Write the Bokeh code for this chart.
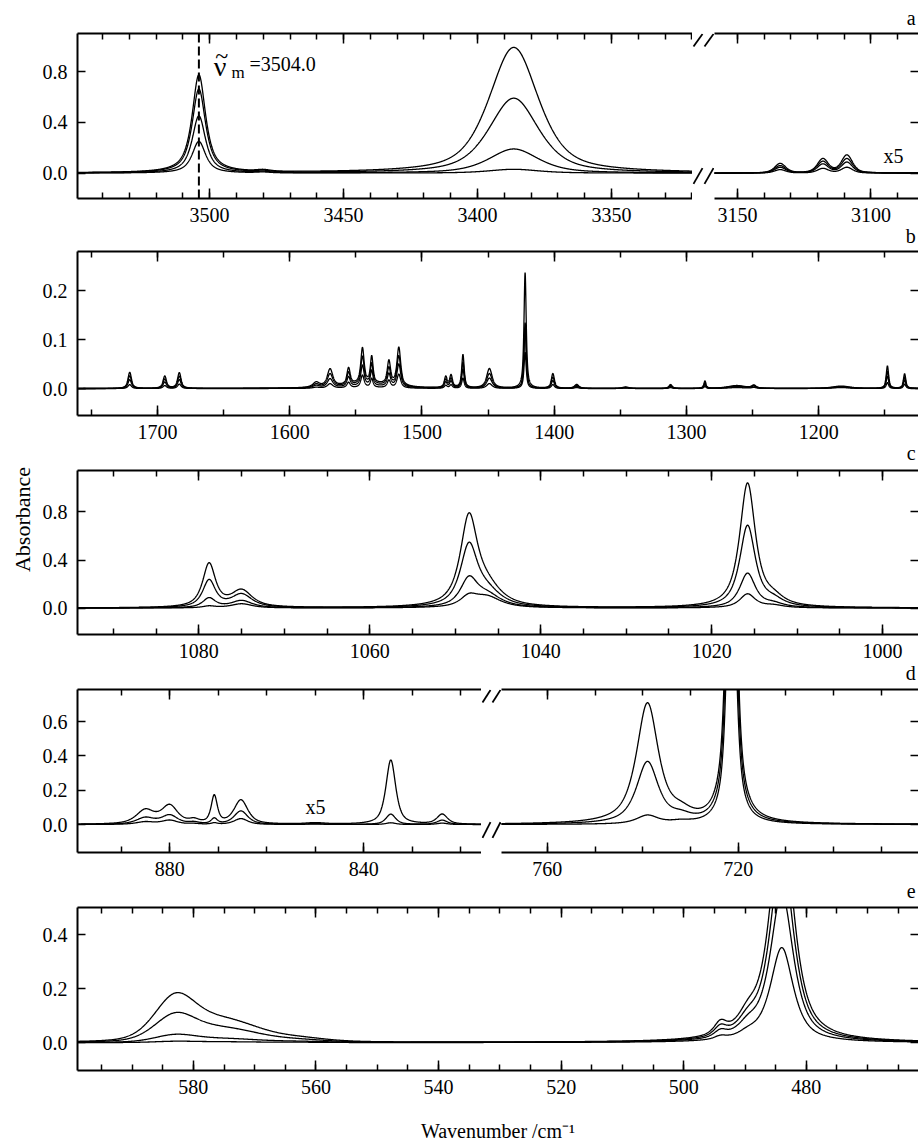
import numpy as np
from bokeh.plotting import figure
from bokeh.layouts import column, row
from bokeh.models import Range1d, LinearAxis, FixedTicker, Label, Span, PrintfTickFormatter
from bokeh.embed import file_html
from bokeh.resources import INLINE

FONT = "Liberation Serif"
INK = "black"

# ---------------- data (peak tables) ----------------
# panel a, left segment: 4 spectra
A_LEFT_POS = [3504.0, 3480.0, 3386.5]
A_LEFT_FWHM = [6.0, 6.0, 22.0]
A_LEFT_ETA = [0.85, 0.5, 0.6]
A_LEFT_H = [
    [0.77, 0.012, 0.99],
    [0.66, 0.010, 0.59],
    [0.45, 0.008, 0.19],
    [0.25, 0.006, 0.03],
]
# panel a, right segment (x5)
A_RIGHT_POS = [3134.0, 3118.0, 3109.0]
A_RIGHT_FWHM = [5.0, 5.0, 5.0]
A_RIGHT_ETA = [0.5, 0.5, 0.5]
A_RIGHT_H = [
    [0.075, 0.110, 0.140],
    [0.058, 0.090, 0.112],
    [0.045, 0.070, 0.085],
    [0.027, 0.036, 0.045],
]
VM = 3504.0

# panel b
B_POS = [1721, 1694.5, 1683.5, 1580, 1569.5, 1555.5, 1545, 1538, 1525, 1517.5,
         1482, 1478, 1469, 1449, 1422, 1401, 1383, 1346, 1312, 1286,
         1262, 1249, 1183, 1148, 1135, 1540]
B_FWHM = [3.2, 3.2, 3.2, 6, 5, 3, 3, 2.4, 3, 3.4,
          2.6, 2.6, 2.2, 5, 2.0, 2.8, 4, 6, 3, 2,
          16, 4, 16, 2.2, 2.2, 45]
B_ETA = 0.8
B_H = [
    [0.033, 0.025, 0.032, 0.010, 0.036, 0.034, 0.072, 0.054, 0.048, 0.078,
     0.022, 0.025, 0.068, 0.040, 0.236, 0.030, 0.008, 0.003, 0.008, 0.015,
     0.006, 0.006, 0.005, 0.046, 0.030, 0.010],
    [0.026, 0.019, 0.025, 0.007, 0.027, 0.027, 0.057, 0.042, 0.036, 0.062,
     0.017, 0.019, 0.053, 0.030, 0.134, 0.023, 0.006, 0.002, 0.006, 0.011,
     0.005, 0.005, 0.004, 0.035, 0.023, 0.008],
    [0.018, 0.013, 0.018, 0.005, 0.018, 0.020, 0.042, 0.031, 0.026, 0.047,
     0.012, 0.014, 0.039, 0.021, 0.124, 0.016, 0.004, 0.0015, 0.004, 0.008,
     0.004, 0.004, 0.003, 0.025, 0.017, 0.005],
    [0.008, 0.006, 0.009, 0.002, 0.009, 0.011, 0.025, 0.018, 0.015, 0.028,
     0.006, 0.007, 0.021, 0.010, 0.074, 0.008, 0.002, 0.001, 0.002, 0.004,
     0.002, 0.002, 0.002, 0.012, 0.009, 0.002],
]

# panel c
C_POS = [1078.8, 1075.0, 1048.4, 1046.3, 1015.8, 1012.8]
C_FWHM = [1.8, 3.0, 2.4, 4.0, 2.2, 3.0]
C_ETA = 0.85
C_H = [
    [0.36, 0.14, 0.72, 0.15, 1.03, 0.06],
    [0.225, 0.11, 0.49, 0.12, 0.68, 0.05],
    [0.08, 0.06, 0.22, 0.10, 0.285, 0.03],
    [0.015, 0.035, 0.08, 0.09, 0.115, 0.02],
]

# panel d, left segment (x5): 3 spectra
D_LEFT_POS = [885.0, 880.0, 875.0, 870.8, 865.3, 850.0, 834.4, 823.8]
D_LEFT_FWHM = [4.5, 4.0, 2.5, 1.5, 3.4, 5.0, 2.4, 2.6]
D_LEFT_ETA = 0.7
D_LEFT_H = [
    [0.080, 0.105, 0.020, 0.160, 0.140, 0.008, 0.375, 0.058],
    [0.038, 0.052, 0.010, 0.032, 0.078, 0.004, 0.060, 0.025],
    [0.015, 0.024, 0.004, 0.008, 0.034, 0.002, 0.010, 0.008],
]
# panel d, right segment
D_RIGHT_POS = [739.0, 732.0, 721.4]
D_RIGHT_FWHM = [5.5, 5.0, 2.0]
D_RIGHT_ETA = [0.8, 0.5, 0.8]
D_RIGHT_H = [
    [0.70, 0.04, 3.0],
    [0.36, 0.03, 2.5],
    [0.05, 0.012, 2.0],
]

# panel e
E_POS = [583.0, 575.0, 562.0, 494.0, 489.5, 484.0]
E_FWHM = [8.0, 14.0, 10.0, 2.5, 4.0, 4.5]
E_ETA = [0.3, 0.3, 0.3, 0.7, 0.7, 0.8]
E_H = [
    [0.150, 0.080, 0.010, 0.045, 0.060, 0.85],
    [0.090, 0.050, 0.006, 0.035, 0.050, 0.70],
    [0.025, 0.014, 0.003, 0.025, 0.040, 0.55],
    [0.004, 0.003, 0.001, 0.012, 0.020, 0.35],
]

# axis ticks
A_LEFT_MAJOR = [3500, 3450, 3400, 3350]
A_LEFT_MINOR = list(range(3320, 3550, 10))
A_RIGHT_MAJOR = [3150, 3100]
A_RIGHT_MINOR = list(range(3090, 3160, 10))
B_MAJOR = [1700, 1600, 1500, 1400, 1300, 1200]
B_MINOR = list(range(1150, 1800, 50))
C_MAJOR = [1080, 1060, 1040, 1020, 1000]
C_MINOR = list(range(1000, 1095, 5))
D_LEFT_MAJOR = [880, 840]
D_LEFT_MINOR = list(range(820, 900, 10))
D_RIGHT_MAJOR = [760, 720]
D_RIGHT_MINOR = list(range(690, 771, 10))
E_MAJOR = [580, 560, 540, 520, 500, 480]
E_MINOR = list(range(465, 600, 5))

A_YTICKS = [0.0, 0.4, 0.8]
B_YTICKS = [0.0, 0.1, 0.2]
C_YTICKS = [0.0, 0.4, 0.8]
D_YTICKS = [0.0, 0.2, 0.4, 0.6]
E_YTICKS = [0.0, 0.2, 0.4]

PANEL_LETTERS = ["a", "b", "c", "d", "e"]
X_TITLE = "Wavenumber /cm\u207b\u00b9"
Y_TITLE = "Absorbance"


def spectrum(x, pos, fwhm, eta, h):
    eta = np.broadcast_to(np.asarray(eta, dtype=float), (len(pos),))
    y = np.zeros_like(x)
    for p0, w, e, a in zip(pos, fwhm, eta, h):
        d2 = ((x - p0) / (w / 2.0)) ** 2
        y += a * (e / (1.0 + d2) + (1.0 - e) * np.exp(-np.log(2.0) * d2))
    return y


def make_fig(w, h, xr, yr, bl, br, bt, bb):
    p = figure(width=w, height=h, x_range=Range1d(*xr), y_range=Range1d(*yr),
               x_axis_type=None, y_axis_type=None, toolbar_location=None,
               output_backend="svg", min_border_left=bl, min_border_right=br,
               min_border_top=bt, min_border_bottom=bb, outline_line_color=None,
               background_fill_color="white", border_fill_color="white",
               title=None)
    return p


def add_x_axes(p, major, minor, title=None):
    for loc in ("below", "above"):
        ax = LinearAxis(ticker=FixedTicker(ticks=major, minor_ticks=minor))
        ax.major_tick_in = 10
        ax.major_tick_out = 0
        ax.minor_tick_in = 6
        ax.minor_tick_out = 0
        ax.axis_line_width = 2
        ax.axis_line_color = INK
        ax.major_tick_line_width = 1.5
        ax.minor_tick_line_width = 1.5
        ax.major_tick_line_color = INK
        ax.minor_tick_line_color = INK
        if loc == "below":
            ax.major_label_text_font = FONT
            ax.major_label_text_font_size = "20px"
            ax.major_label_text_color = INK
            ax.major_label_standoff = 9
            if title is not None:
                ax.axis_label = title
                ax.axis_label_text_font = FONT
                ax.axis_label_text_font_size = "20px"
                ax.axis_label_text_font_style = "normal"
                ax.axis_label_text_color = INK
                ax.axis_label_standoff = 23
        else:
            ax.major_label_text_color = None
            ax.major_label_text_font_size = "1px"
            ax.major_label_standoff = 0
        p.add_layout(ax, loc)


def add_y_axes(p, ticks, left=True, right=True):
    sides = []
    if left:
        sides.append("left")
    if right:
        sides.append("right")
    for loc in sides:
        ax = LinearAxis(ticker=FixedTicker(ticks=ticks, minor_ticks=[]))
        ax.major_tick_in = 8
        ax.major_tick_out = 0
        ax.minor_tick_in = 0
        ax.minor_tick_out = 0
        ax.major_tick_line_width = 1.5
        ax.major_tick_line_color = INK
        ax.formatter = PrintfTickFormatter(format="%.1f")
        if loc == "left":
            ax.axis_line_width = 2
            ax.axis_line_color = INK
            ax.major_label_text_font = FONT
            ax.major_label_text_font_size = "20px"
            ax.major_label_text_color = INK
            ax.major_label_standoff = 10
        else:
            ax.axis_line_color = None
            ax.major_label_text_color = None
            ax.major_label_text_font_size = "1px"
            ax.major_label_standoff = 0
        p.add_layout(ax, loc)


def draw(p, lo, hi, step, pos, fwhm, eta, heights):
    x = np.arange(lo, hi, step)
    for h in heights:
        p.line(x, spectrum(x, pos, fwhm, eta, h), line_color=INK, line_width=1.3)


def label(p, x, y, text, size="20px", align="left", angle=0.0):
    p.add_layout(Label(x=x, y=y, text=text, text_font=FONT, text_font_size=size,
                       text_color=INK, text_align=align, text_baseline="middle",
                       angle=angle))


def blank(w, h, xr, yr):
    return figure(width=w, height=h, x_range=Range1d(*xr), y_range=Range1d(*yr),
                  x_axis_type=None, y_axis_type=None, toolbar_location=None,
                  output_backend="svg", min_border_left=0, min_border_right=0,
                  min_border_top=0, min_border_bottom=0, outline_line_color=None,
                  background_fill_color="white", border_fill_color="white",
                  title=None)


def make_gap(w, h, yr, bt, bb, frame_h):
    # blank strip between the two halves of a broken axis, carrying the "//" marks
    k = (yr[1] - yr[0]) / frame_h
    g = blank(w, h, (0, w), (yr[0] - bb * k, yr[1] + bt * k))
    below, above = 9.5 * k, min(9.5, bt - 0.5) * k
    g.segment(x0=[1.0, w / 2.0 + 1.0], y0=[yr[1] - below] * 2,
              x1=[w / 2.0 - 1.0, w - 1.0], y1=[yr[1] + above] * 2,
              line_color=INK, line_width=1.8)
    g.segment(x0=[1.0, w / 2.0 + 1.0], y0=[yr[0] - below] * 2,
              x1=[w / 2.0 - 1.0, w - 1.0], y1=[yr[0] + below] * 2,
              line_color=INK, line_width=1.8)
    return g


def letter_strip(w, h, text, ymid):
    s = blank(w, h, (0, w), (h, 0))
    label(s, w - 3, ymid, text, align="right")
    return s


LEFT_STRIP = 36
W = 918 - LEFT_STRIP
BL = 77 - LEFT_STRIP
TOP = 6
BOT = 27

# frame tops / heights on the page
FRAME_TOPS = [33, 251, 470, 689, 907]
FRAME_HS = [165, 164, 164, 163, 164]
strip_h = [FRAME_TOPS[0] - TOP]
for i in range(1, 5):
    strip_h.append(FRAME_TOPS[i] - TOP - (FRAME_TOPS[i - 1] + FRAME_HS[i - 1] + BOT))

# ---------------- panel a ----------------
AXL = (3549.3, 3319.8)
AXR = (3158.6, 3082.2)
AY = (-0.2, 1.1)
A_H = TOP + FRAME_HS[0] + BOT
sa = letter_strip(W, strip_h[0], PANEL_LETTERS[0], strip_h[0] - 10)
fa1 = make_fig(BL + 615, A_H, AXL, AY, BL, 0, TOP, BOT)
ga = make_gap(22, A_H, AY, TOP, BOT, FRAME_HS[0])
fa2 = make_fig(204, A_H, AXR, AY, 0, 0, TOP, BOT)
add_x_axes(fa1, A_LEFT_MAJOR, A_LEFT_MINOR)
add_x_axes(fa2, A_RIGHT_MAJOR, A_RIGHT_MINOR)
add_y_axes(fa1, A_YTICKS, left=True, right=False)
add_y_axes(fa2, A_YTICKS, left=False, right=True)
draw(fa1, 3317.0, 3551.0, 0.1, A_LEFT_POS, A_LEFT_FWHM, A_LEFT_ETA, A_LEFT_H)
draw(fa2, 3081.0, 3161.0, 0.1, A_RIGHT_POS, A_RIGHT_FWHM, A_RIGHT_ETA, A_RIGHT_H)
fa1.add_layout(Span(location=VM, dimension="height", line_color=INK,
                    line_width=2, line_dash="9 4"))
label(fa1, 3498.5, 0.837, "\u03bd", size="28px")
label(fa1, 3495.5, 0.925, "~", size="24px", align="center")
label(fa1, 3491.8, 0.789, "m", size="17px")
label(fa1, 3485.1, 0.86, "=3504.0", size="20px")
label(fa2, 3095.3, 0.138, "x5")

# ---------------- panel b ----------------
sb = letter_strip(W, strip_h[1], PANEL_LETTERS[1], strip_h[1] / 2.0)
fb = make_fig(W, TOP + FRAME_HS[1] + BOT, (1760.5, 1124.5), (-0.055, 0.28),
              BL, 0, TOP, BOT)
add_x_axes(fb, B_MAJOR, B_MINOR)
add_y_axes(fb, B_YTICKS)
draw(fb, 1123.0, 1762.0, 0.1, B_POS, B_FWHM, B_ETA, B_H)

# ---------------- panel c ----------------
sc = letter_strip(W, strip_h[2], PANEL_LETTERS[2], strip_h[2] / 2.0 - 1)
fc = make_fig(W, TOP + FRAME_HS[2] + BOT, (1094.2, 995.8), (-0.22, 1.145),
              BL, 0, TOP, BOT)
add_x_axes(fc, C_MAJOR, C_MINOR)
add_y_axes(fc, C_YTICKS)
draw(fc, 995.0, 1095.0, 0.05, C_POS, C_FWHM, C_ETA, C_H)

# ---------------- panel d ----------------
DXL = (899.0, 815.7)
DXR = (769.6, 682.2)
DY = (-0.163, 0.787)
D_H = TOP + FRAME_HS[3] + BOT
sd = letter_strip(W, strip_h[3], PANEL_LETTERS[3], strip_h[3] / 2.0)
fd1 = make_fig(BL + 404, D_H, DXL, DY, BL, 0, TOP, BOT)
gd = make_gap(20, D_H, DY, TOP, BOT, FRAME_HS[3])
fd2 = make_fig(417, D_H, DXR, DY, 0, 0, TOP, BOT)
add_x_axes(fd1, D_LEFT_MAJOR, D_LEFT_MINOR)
add_x_axes(fd2, D_RIGHT_MAJOR, D_RIGHT_MINOR)
add_y_axes(fd1, D_YTICKS, left=True, right=False)
add_y_axes(fd2, D_YTICKS, left=False, right=True)
draw(fd1, 814.0, 900.0, 0.1, D_LEFT_POS, D_LEFT_FWHM, D_LEFT_ETA, D_LEFT_H)
draw(fd2, 681.0, 771.0, 0.05, D_RIGHT_POS, D_RIGHT_FWHM, D_RIGHT_ETA, D_RIGHT_H)
label(fd1, 852.0, 0.105, "x5")

# ---------------- panel e ----------------
se = letter_strip(W, strip_h[4], PANEL_LETTERS[4], strip_h[4] / 2.0)
E_BOT = 1144 - FRAME_TOPS[4] - FRAME_HS[4]
fe = make_fig(W, TOP + FRAME_HS[4] + E_BOT, (598.9, 461.7), (-0.103, 0.5),
              BL, 0, TOP, E_BOT)
add_x_axes(fe, E_MAJOR, E_MINOR, title=X_TITLE)
add_y_axes(fe, E_YTICKS)
draw(fe, 461.0, 600.0, 0.1, E_POS, E_FWHM, E_ETA, E_H)

# ---------------- shared y title ----------------
ab = blank(LEFT_STRIP, 1144, (0, LEFT_STRIP), (1144, 0))
label(ab, 22, 519, Y_TITLE, size="22px", align="center", angle=np.pi / 2)

panels = column(sa, row(fa1, ga, fa2), sb, fb, sc, fc, sd, row(fd1, gd, fd2), se, fe)
layout = row(ab, panels)
open("out.html", "w").write(file_html(layout, INLINE))
